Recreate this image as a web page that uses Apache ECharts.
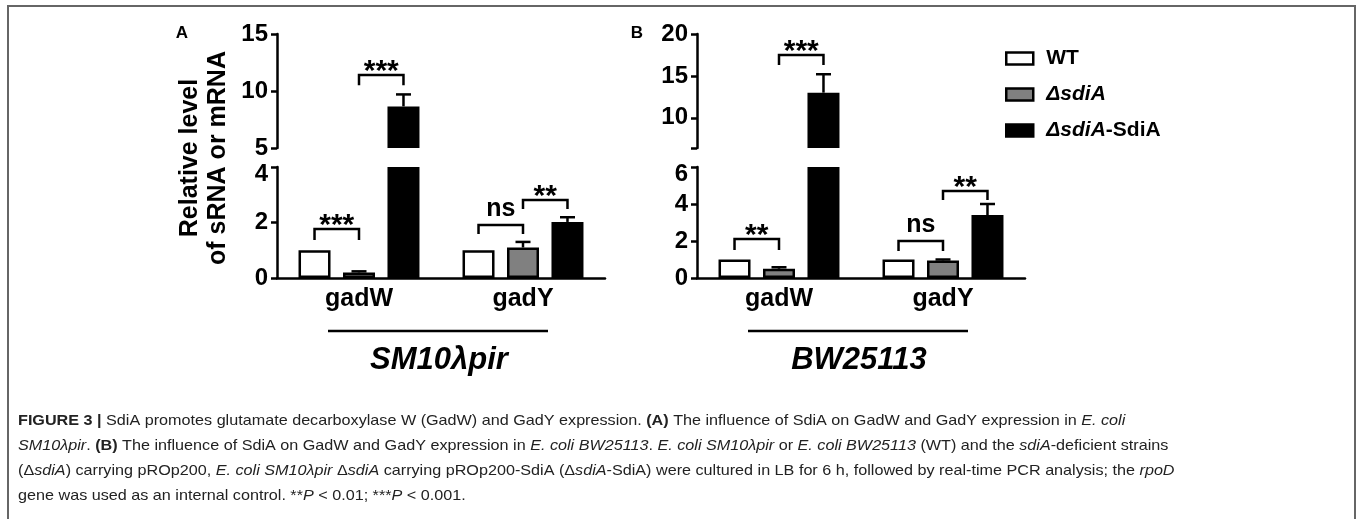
<!DOCTYPE html>
<html><head><meta charset="utf-8">
<script src="https://cdn.jsdelivr.net/npm/echarts@6/dist/echarts.min.js"></script>
<style>html,body{margin:0;padding:0;background:#fff}#c{width:1357px;height:519px}</style>
</head><body><div id="c"></div>
<script>
// ---------- data ----------
const categories = ['gadW', 'gadY'];
const strains = ['WT', 'ΔsdiA', 'ΔsdiA-SdiA'];
// Panel A: SM10λpir
const aWT = [1.0, 1.0];
const aDel = [0.2, 1.1];
const aComp = [8.65, 2.02];
const aWTErr = [0, 0];
const aDelErr = [0.04, 0.2];
const aCompErr = [1.05, 0.17];
// Panel B: BW25113
const bWT = [1.0, 1.0];
const bDel = [0.5, 0.95];
const bComp = [13.0, 3.4];
const bWTErr = [0, 0];
const bDelErr = [0.08, 0.05];
const bCompErr = [2.2, 0.6];
// axis ticks (broken axes: lower / upper segments)
const aLowerTicks = [0, 2, 4];
const aUpperTicks = [5, 10, 15];
const bLowerTicks = [0, 2, 4, 6];
const bUpperTicks = [10, 15, 20];
const bUpperMin = 6.4;
// significance brackets: [category, fromBar, toBar, top, legBottom, label]
const aLowerSig = [[0, 0, 1, 1.77, 1.37, '***'], [1, 0, 1, 1.91, 1.59, 'ns'], [1, 1, 2, 2.81, 2.49, '**']];
const aUpperSig = [[0, 1, 2, 11.4, 10.5, '***']];
const bLowerSig = [[0, 0, 1, 2.11, 1.51, '**'], [1, 0, 1, 2.0, 1.46, 'ns'], [1, 1, 2, 4.7, 4.22, '**']];
const bUpperSig = [[0, 1, 2, 17.5, 16.3, '***']];
const groupLabels = ['SM10λpir', 'BW25113'];

// ---------- styles ----------
const FONT = 'Liberation Sans';
const BAR_W = 32, BAR_GAP = 0.39, SPACING = BAR_W * (1 + BAR_GAP);
const fills = ['#ffffff', '#808080', '#000000'];
const LW = 2.5;

const panels = [
  {vals: [aWT, aDel, aComp], errs: [aWTErr, aDelErr, aCompErr], lower: {min: 0, max: 4, ticks: aLowerTicks}, upper: {min: 5, max: 15, ticks: aUpperTicks}, sigL: aLowerSig, sigU: aUpperSig, left: 277},
  {vals: [bWT, bDel, bComp], errs: [bWTErr, bDelErr, bCompErr], lower: {min: 0, max: 6, ticks: bLowerTicks}, upper: {min: bUpperMin, max: 20, ticks: bUpperTicks}, sigL: bLowerSig, sigU: bUpperSig, left: 697}
];

const grids = [], xAxes = [], yAxes = [], series = [];
const axisLineStyle = {color: '#000', width: LW};
const labelStyle = {color: '#000', fontSize: 24, fontWeight: 'bold', fontFamily: FONT};

function errRender(params, api) {
  const c = api.value(0), v = api.value(1), e = api.value(2), s = api.value(3);
  const p0 = api.coord([c, v]), p1 = api.coord([c, v + e]);
  const x = p0[0] + (s - 1) * SPACING;
  return {type: 'group', children: [
    {type: 'line', shape: {x1: x, y1: p0[1], x2: x, y2: p1[1]}, style: {stroke: '#000', lineWidth: LW}},
    {type: 'line', shape: {x1: x - 7.5, y1: p1[1], x2: x + 7.5, y2: p1[1]}, style: {stroke: '#000', lineWidth: LW}}
  ]};
}
function makeSigRender(list) {
  return function (params, api) {
    const d = list[params.dataIndex];
    const base = api.coord([d[0], d[3]]);
    const legY = api.coord([d[0], d[4]])[1];
    const x1 = base[0] + (d[1] - 1) * SPACING, x2 = base[0] + (d[2] - 1) * SPACING;
    const isStar = d[5].indexOf('*') >= 0;
    return {type: 'group', children: [
      {type: 'polyline', shape: {points: [[x1, legY], [x1, base[1]], [x2, base[1]], [x2, legY]]}, style: {stroke: '#000', lineWidth: LW, fill: null}},
      {type: 'text', x: (x1 + x2) / 2, y: base[1] + (isStar ? -3 : -16), style: {text: d[5], align: 'center', verticalAlign: 'middle', fill: '#000', font: 'bold ' + (isStar ? 30 : 25) + 'px "' + FONT + '"'}}
    ]};
  };
}

panels.forEach((p, pi) => {
  const segs = [{key: 'upper', top: 34, height: 114}, {key: 'lower', top: 167, height: 111}];
  segs.forEach(sg => {
    const g = grids.length;
    const ax = p[sg.key];
    grids.push({left: p.left, top: sg.top, width: 328, height: sg.height});
    const isLower = sg.key === 'lower';
    xAxes.push({
      type: 'category', gridIndex: g, data: categories, show: isLower,
      axisLine: {lineStyle: axisLineStyle},
      axisTick: {alignWithLabel: true, length: 7, lineStyle: axisLineStyle},
      axisLabel: Object.assign({}, labelStyle, {margin: 9, fontSize: 25})
    });
    const tickVals = ax.ticks.slice();
    if (ax.ticks.indexOf(ax.min) < 0) tickVals.unshift(ax.min);
    yAxes.push({
      type: 'value', gridIndex: g, min: ax.min, max: ax.max,
      axisLine: {show: true, lineStyle: axisLineStyle},
      axisTick: {show: true, length: 6, lineStyle: axisLineStyle, customValues: tickVals},
      axisLabel: Object.assign({margin: 9, customValues: ax.ticks,
        formatter: (v) => (isLower && v === ax.max) ? '{t|' + v + '}' : String(v),
        rich: {t: {fontSize: 24, fontWeight: 'bold', color: '#000', fontFamily: FONT, padding: [15, 0, 0, 0]}}
      }, labelStyle),
      splitLine: {show: false}
    });
    strains.forEach((name, si) => {
      const vals = p.vals[si];
      const data = isLower ? vals.map(v => Math.min(v, ax.max)) : vals.map(v => (v > ax.min ? v : '-'));
      series.push({
        type: 'bar', name, xAxisIndex: g, yAxisIndex: g, data,
        barWidth: BAR_W, barGap: (BAR_GAP * 100) + '%',
        itemStyle: {color: fills[si], borderColor: '#000', borderWidth: si === 2 ? 0 : LW},
        silent: true, z: 2
      });
    });
    const errData = [];
    strains.forEach((name, si) => {
      p.vals[si].forEach((v, c) => {
        const e = p.errs[si][c];
        if (!e) return;
        const inSeg = isLower ? (v + e <= ax.max) : (v > ax.min);
        if (inSeg) errData.push([c, v, e, si]);
      });
    });
    series.push({type: 'custom', xAxisIndex: g, yAxisIndex: g, data: errData, renderItem: errRender, silent: true, z: 3, encode: {x: 0, y: 1}});
    const sig = isLower ? p.sigL : p.sigU;
    series.push({type: 'custom', xAxisIndex: g, yAxisIndex: g, data: sig.map(d => [d[0], d[3], d[4]]), renderItem: makeSigRender(sig), silent: true, z: 4, encode: {x: 0, y: 1}});
  });
});

const legendRich = {
  b: {fontWeight: 'bold', fontSize: 21, color: '#000', fontFamily: FONT},
  bi: {fontWeight: 'bold', fontStyle: 'italic', fontSize: 21, color: '#000', fontFamily: FONT}
};
function legendFmt(name) {
  if (name === 'WT') return '{b|WT}';
  if (name === 'ΔsdiA') return '{bi|ΔsdiA}';
  return '{bi|ΔsdiA}{b|-SdiA}';
}

const CAP_FS = 15;
const capRich = {
  b: {fontWeight: 'bold', fontSize: CAP_FS, fill: '#222', fontFamily: FONT},
  i: {fontStyle: 'italic', fontSize: CAP_FS, fill: '#222', fontFamily: FONT}
};
const captionLines = [
  '{b|FIGURE 3 |} SdiA promotes glutamate decarboxylase W (GadW) and GadY expression. {b|(A)} The influence of SdiA on GadW and GadY expression in {i|E. coli}',
  '{i|SM10λpir}. {b|(B)} The influence of SdiA on GadW and GadY expression in {i|E. coli BW25113}. {i|E. coli SM10λpir} or {i|E. coli BW25113} (WT) and the {i|sdiA}-deficient strains',
  '(Δ{i|sdiA}) carrying pROp200, {i|E. coli SM10λpir} Δ{i|sdiA} carrying pROp200-SdiA (Δ{i|sdiA}-SdiA) were cultured in LB for 6 h, followed by real-time PCR analysis; the {i|rpoD}',
  'gene was used as an internal control. **{i|P} < 0.01; ***{i|P} < 0.001.'
];

const graphic = [
  {type: 'polyline', shape: {points: [[8, 530], [8, 6], [1355, 6], [1355, 530]]}, style: {stroke: '#666', lineWidth: 2, fill: null}, silent: true},
  {type: 'text', x: 182, y: 33, style: {text: 'A', align: 'center', verticalAlign: 'middle', font: 'bold 17px "' + FONT + '"', fill: '#000'}},
  {type: 'text', x: 637, y: 33, style: {text: 'B', align: 'center', verticalAlign: 'middle', font: 'bold 17px "' + FONT + '"', fill: '#000'}},
  {type: 'text', x: 204, y: 158, rotation: Math.PI / 2, style: {text: 'Relative level\nof sRNA or mRNA', align: 'center', verticalAlign: 'middle', font: 'bold 25px "' + FONT + '"', lineHeight: 28, fill: '#000'}},
  {type: 'line', shape: {x1: 328, y1: 331, x2: 548, y2: 331}, style: {stroke: '#000', lineWidth: LW}},
  {type: 'line', shape: {x1: 748, y1: 331, x2: 968, y2: 331}, style: {stroke: '#000', lineWidth: LW}},
  {type: 'text', x: 439, y: 360, style: {text: groupLabels[0], align: 'center', verticalAlign: 'middle', font: 'italic bold 31px "' + FONT + '"', fill: '#000'}},
  {type: 'text', x: 859, y: 360, style: {text: groupLabels[1], align: 'center', verticalAlign: 'middle', font: 'italic bold 31px "' + FONT + '"', fill: '#000'}}
];
captionLines.forEach((t, i) => {
  graphic.push({type: 'text', x: 18, y: 421 + i * 25, scaleX: 1.078, style: {text: t, rich: capRich, align: 'left', verticalAlign: 'middle', font: CAP_FS + 'px "' + FONT + '"', fill: '#222'}});
});

const chart = echarts.init(document.getElementById('c'), null, {renderer: 'canvas'});
chart.setOption({
  animation: false,
  backgroundColor: '#fff',
  textStyle: {fontFamily: FONT},
  grid: grids, xAxis: xAxes, yAxis: yAxes, series,
  legend: {
    orient: 'vertical', left: 1000, top: 43, itemWidth: 27, itemHeight: 12, itemGap: 15,
    icon: 'rect', selectedMode: false,
    data: [
      {name: 'WT', icon: 'rect', itemStyle: {color: '#fff', borderColor: '#000', borderWidth: LW}},
      {name: 'ΔsdiA', icon: 'rect', itemStyle: {color: '#808080', borderColor: '#000', borderWidth: LW}},
      {name: 'ΔsdiA-SdiA', icon: 'rect', itemStyle: {color: '#000', borderColor: '#000', borderWidth: LW}}
    ],
    formatter: legendFmt,
    textStyle: {fontSize: 21, fontWeight: 'bold', color: '#000', lineHeight: 13, padding: [0, 0, 0, 8], rich: legendRich}
  },
  graphic
});
</script></body></html>
